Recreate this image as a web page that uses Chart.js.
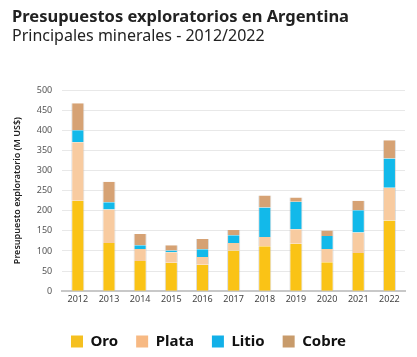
<!DOCTYPE html>
<html><head><meta charset="utf-8">
<script src="https://cdn.jsdelivr.net/npm/chart.js@4/dist/chart.umd.min.js"></script>
<style>html,body{margin:0;padding:0;background:#fff}#wrap{width:417px;height:357px}</style>
</head><body><div id="wrap"><canvas id="c"></canvas></div>
<script>
const years = ['2012','2013','2014','2015','2016','2017','2018','2019','2020','2021','2022'];
const oro   = [225,120,75,71,66,101,112,118,72,95,176];
const plata = [145,83,30,26,19,19,23,36,33,51,81];
const litio = [30,18,9,4,19,19,73,68,32,55,73];
const cobre = [67,51,28,13,26,13,30,11,14,24,45];
const seriesNames = ['Oro','Plata','Litio','Cobre'];
const barColors = ['#FAC316','#F8CBA0','#12B9EA','#D6A274'];
const legendColors = ['#F5C020','#F7B983','#12B0E8','#C89B6B'];

const mk = (i, data) => ({label: seriesNames[i], data, backgroundColor: barColors[i], borderColor:'rgba(190,190,190,0.5)', borderWidth:{left:1,right:1,top:0,bottom:0}, barPercentage:0.42, categoryPercentage:1});

new Chart(document.getElementById('c'), {
  type:'bar',
  data:{labels: years, datasets:[mk(0,oro),mk(1,plata),mk(2,litio),mk(3,cobre)]},
  options:{
    responsive:true, maintainAspectRatio:false, animation:false,
    layout:{padding:{left:12,right:12,top:7,bottom:-2}},
    plugins:{
      title:{display:true, text:'Presupuestos exploratorios en Argentina', align:'start', color:'#222', font:{family:'Noto Sans', size:16.5, weight:'bold'}, padding:{top:0,bottom:0}},
      subtitle:{display:true, text:'Principales minerales - 2012/2022', align:'start', color:'#222', font:{family:'Noto Sans', size:16, weight:'normal'}, padding:{top:0,bottom:44}},
      legend:{position:'bottom', labels:{
        color:'#111', font:{family:'Noto Sans', size:15, weight:'bold'}, boxWidth:12, boxHeight:12, padding:18,
        generateLabels:(chart)=>seriesNames.map((n,i)=>({text:n, fillStyle:legendColors[i], strokeStyle:legendColors[i], lineWidth:0, datasetIndex:i, fontColor:'#111'}))
      }},
      tooltip:{enabled:false}
    },
    scales:{
      x:{stacked:true, grid:{display:false}, border:{color:'#c8c8c8', width:2}, ticks:{color:'#444', font:{family:'Noto Sans', size:9}, padding:-5},
         afterFit:(s)=>{s.height += 16;}},
      y:{stacked:true, min:0, max:500, grid:{color:'#e8e8e8', drawTicks:false}, border:{display:false},
         ticks:{stepSize:50, color:'#555', font:{family:'Noto Sans', size:9}, padding:10},
         title:{display:true, text:'Presupuesto exploratorio (M US$)', color:'#222', font:{family:'Noto Sans', size:9, weight:'600'}, padding:{top:0,bottom:4}}}
    }
  }
});
</script></body></html>
